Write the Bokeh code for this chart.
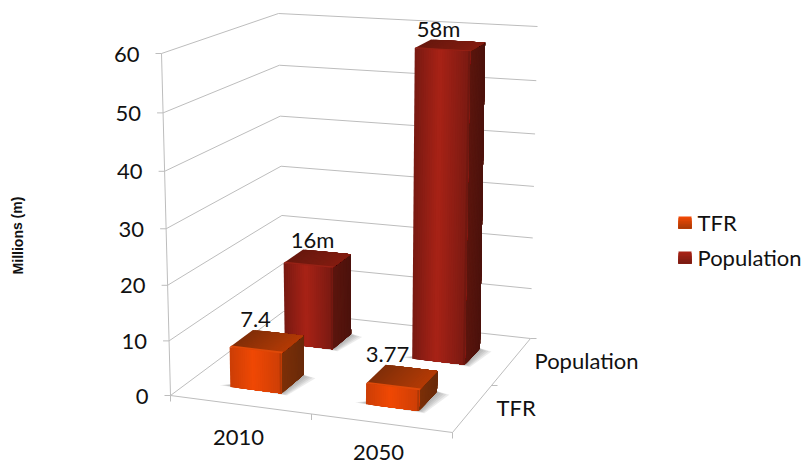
from bokeh.plotting import figure
from bokeh.models import Range1d
from bokeh.core.properties import value
from bokeh.embed import file_html
from bokeh.resources import INLINE

# ---- data ----
categories = ["2010", "2050"]
series = ["TFR", "Population"]
tfr_values = [7.4, 3.77]
population_values = [16, 58]
tfr_labels = ["7.4", "3.77"]
population_labels = ["16m", "58m"]
y_ticks = [0, 10, 20, 30, 40, 50, 60]
y_title = "Millions (m)"

# ---- 3D box of the chart, as page pixels of its eight corners ----
W, H = 801, 466
Y_MAX = 60
FLOOR = {"A": (170, 395), "B": (452, 432), "C": (283, 311), "D": (530, 338)}
ROOF = {"A": (161, 53), "B": (461, 74), "C": (278, 13), "D": (537, 26)}
PERSPECTIVE = 0.05


def bil(q, u, v):
    return tuple((1-u)*(1-v)*q["A"][i] + u*(1-v)*q["B"][i] + (1-u)*v*q["C"][i] + u*v*q["D"][i] for i in (0, 1))


def proj(u, v, val):
    w = val / Y_MAX
    w = w * (1 - PERSPECTIVE * (1 - w))
    a, b = bil(FLOOR, u, v), bil(ROOF, u, v)
    return (a[0] + (b[0]-a[0])*w, a[1] + (b[1]-a[1])*w)


def mix(c1, c2, t):
    return "#%02x%02x%02x" % tuple(round(c1[i] + (c2[i]-c1[i])*t) for i in range(3))


p = figure(width=W, height=H, output_backend="svg", toolbar_location=None,
           x_range=Range1d(0, W), y_range=Range1d(H, 0),
           min_border=0, outline_line_color=None)
p.axis.visible = False
p.grid.visible = False
p.background_fill_color = "white"
p.border_fill_color = "white"

GRID = "#bdbdbd"


def line(pts, w=1.0, color=GRID):
    p.line([q[0] for q in pts], [q[1] for q in pts], line_color=color, line_width=w)


def poly(pts, color, alpha=1.0):
    p.patch([q[0] for q in pts], [q[1] for q in pts], fill_color=color, fill_alpha=alpha, line_color=None)


# walls and floor
for t in y_ticks:
    line([proj(0, 0, t), proj(0, 1, t), proj(1, 1, t)])
    x, y = proj(0, 0, t)
    line([(x-6, y), (x, y)])
line([proj(0, 0, 0), proj(0, 0, Y_MAX)])
line([proj(0, 0, 0), proj(1, 0, 0), proj(1, 1, 0)])
for u in (0, 0.5, 1):
    x, y = proj(u, 0, 0)
    line([(x, y), (x, y+6)])
for v in (0.5, 1):
    x, y = proj(1, v, 0)
    line([(x, y), (x+6, y)])

# bar footprints on the floor, as fractions of the box
U_SPANS = {"TFR": [(0.149, 0.335), (0.64, 0.832)], "Population": [(0.149, 0.335), (0.642, 0.846)]}
V_SPANS = {"TFR": (0.165, 0.38), "Population": (0.67, 0.85)}

PAL = {
    "TFR": dict(edge=(205, 62, 6), mid=(240, 72, 4), side0=(125, 48, 8), side1=(105, 42, 10),
                top0=(130, 46, 8), top1=(178, 58, 5), bevel=(238, 78, 10)),
    "Population": dict(edge=(122, 26, 18), mid=(168, 34, 22), side0=(92, 22, 14), side1=(76, 18, 12),
                       top0=(105, 24, 14), top1=(130, 28, 16), bevel=(160, 36, 24)),
}


def shadow(u0, u1, v0, v1):
    for k in range(5, 0, -1):
        du, dv = 0.008*k, 0.012*k
        poly([proj(u0-du, v0+0.015-dv*0.2, 0), proj(u1+du*0.6, v0+0.01-dv*0.4, 0),
              proj(u1+du*1.3, v1-0.02, 0), proj(u1, v1, 0)],
             "#6a6a6a", alpha=0.13)


def bar(s, i, val):
    u0, u1 = U_SPANS[s][i]
    v0, v1 = V_SPANS[s]
    c = PAL[s]
    n = 24
    # each strip runs on to the far edge and the next one paints over it
    for k in range(n):
        a = v0 + (v1-v0)*k/n
        poly([proj(u1, a, 0), proj(u1, v1, 0), proj(u1, v1, val), proj(u1, a, val)],
             mix(c["side0"], c["side1"], k/(n-1)))
    for k in range(n):
        a = u0 + (u1-u0)*k/n
        poly([proj(a, v0, val), proj(u1, v0, val), proj(u1, v1, val), proj(a, v1, val)],
             mix(c["top0"], c["top1"], k/(n-1)))
    for k in range(n):
        a = u0 + (u1-u0)*k/n
        t = k/(n-1)
        f = t/0.45 if t < 0.45 else (1-t)/0.55
        poly([proj(a, v0, 0), proj(u1, v0, 0), proj(u1, v0, val), proj(a, v0, val)],
             mix(c["edge"], c["mid"], f))
    dv = (v1-v0)*0.09
    poly([proj(u0, v0, val), proj(u1, v0, val), proj(u1, v0+dv, val), proj(u0, v0+dv, val)], mix(c["bevel"], c["top1"], 0.25))
    du = (u1-u0)*0.035
    poly([proj(u1-du, v0, 0), proj(u1, v0, 0), proj(u1, v0, val), proj(u1-du, v0, val)], mix(c["side0"], c["edge"], 0.6))


for i in range(len(categories)):
    shadow(*U_SPANS["Population"][i], *V_SPANS["Population"])
    bar("Population", i, population_values[i])
for i in range(len(categories)):
    shadow(*U_SPANS["TFR"][i], *V_SPANS["TFR"])
    bar("TFR", i, tfr_values[i])

FONT = value("Lato")
INK = "#111111"


def label(x, y, s, align="center", size="22px", font=FONT, style="normal", angle=0.0):
    p.text([x], [y], text=[s], text_align=align, text_baseline="middle", text_font=font,
           text_font_size=size, text_font_style=style, text_color=INK, angle=angle)


# y tick labels
for t in y_ticks:
    x, y = proj(0, 0, t)
    label(x-22, y+0.5, str(t), align="right")

# axis labels
label(238, 437, categories[0])
label(378, 452, categories[1])
label(534, 360, series[1], align="left")
label(496, 407, series[0], align="left")
label(17, 235, y_title, size="14px", font=value("Liberation Sans"), style="bold", angle=1.5708)

# data labels
label(255, 319, tfr_labels[0])
label(387, 354, tfr_labels[1])
label(312, 239, population_labels[0])
label(438, 28, population_labels[1])

# legend
for s, y0 in zip(series, (216, 251)):
    c = PAL[s]
    n = 8
    for k in range(n):
        poly([(678, y0+12*k/n), (691, y0+12*k/n), (691, y0+12), (678, y0+12)],
             mix(c["mid"], c["side0"], k/(n-1)*0.6))
    label(697, y0+6, s, align="left")

open("out.html", "w").write(file_html(p, INLINE))
